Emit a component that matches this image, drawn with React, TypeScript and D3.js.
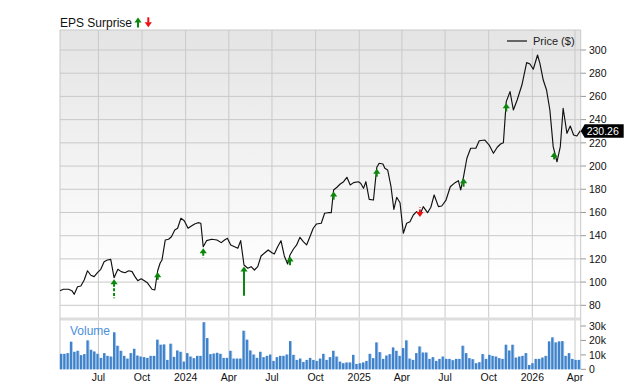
import React from "react";
import * as d3 from "d3";

const priceDates = [
  "2023-04-11","2023-04-18","2023-04-29","2023-05-06","2023-05-11","2023-05-18","2023-05-25","2023-06-01","2023-06-08","2023-06-15",
  "2023-06-22","2023-06-29","2023-07-06","2023-07-13","2023-07-20","2023-07-27","2023-08-03","2023-08-11","2023-08-18","2023-08-26",
  "2023-09-03","2023-09-10","2023-09-16","2023-09-22","2023-09-29","2023-10-06","2023-10-12","2023-10-22","2023-10-28","2023-11-03",
  "2023-11-08","2023-11-12","2023-11-19","2023-11-26","2023-12-02","2023-12-09","2023-12-15","2023-12-22","2023-12-29","2024-01-06",
  "2024-01-13","2024-01-20","2024-01-27","2024-02-02","2024-02-07","2024-02-14","2024-02-25","2024-03-07","2024-03-16","2024-03-23",
  "2024-03-29","2024-04-05","2024-04-13","2024-04-20","2024-04-26","2024-05-03","2024-05-11","2024-05-18","2024-05-25","2024-06-01",
  "2024-06-08","2024-06-16","2024-06-23","2024-07-01","2024-07-06","2024-07-13","2024-07-20","2024-07-27","2024-08-03","2024-08-08",
  "2024-08-15","2024-08-22","2024-08-29","2024-09-05","2024-09-12","2024-09-19","2024-09-26","2024-10-03","2024-10-13","2024-10-20",
  "2024-10-27","2024-11-03","2024-11-08","2024-11-15","2024-11-22","2024-11-29","2024-12-06","2024-12-13","2024-12-20","2024-12-30",
  "2025-01-04","2025-01-10","2025-01-15","2025-01-22","2025-01-31","2025-02-07","2025-02-12","2025-02-20","2025-02-24","2025-03-02",
  "2025-03-09","2025-03-15","2025-03-21","2025-03-28","2025-04-04","2025-04-11","2025-04-18","2025-04-25","2025-05-02","2025-05-09",
  "2025-05-16","2025-05-25","2025-06-01","2025-06-08","2025-06-17","2025-06-24","2025-07-03","2025-07-12","2025-07-22","2025-07-29",
  "2025-08-03","2025-08-09","2025-08-16","2025-08-24","2025-09-04","2025-09-11","2025-09-23","2025-10-02","2025-10-11","2025-10-19",
  "2025-10-26","2025-11-01","2025-11-07","2025-11-15","2025-11-22","2025-11-30","2025-12-10","2025-12-20","2025-12-27","2026-01-03",
  "2026-01-12","2026-01-17","2026-01-24","2026-01-31","2026-02-07","2026-02-14","2026-02-22","2026-03-01","2026-03-07","2026-03-15",
  "2026-03-22","2026-03-29","2026-04-05","2026-04-12"
];

const priceValues = [
  92.6, 93.8, 93.8, 92.6, 89.5, 96.0, 96.6, 101.8, 109.8, 105.9,
  104.7, 108.1, 111.0, 117.6, 119.0, 119.6, 103.8, 111.0, 109.0, 108.1,
  109.8, 109.0, 104.7, 101.2, 102.9, 101.2, 99.5, 93.8, 93.2, 109.8,
  116.2, 119.0, 136.3, 136.9, 139.1, 144.9, 146.4, 155.0, 152.9, 146.4,
  148.3, 150.1, 151.2, 150.7, 130.5, 135.7, 136.9, 136.3, 134.0, 136.3,
  137.7, 132.0, 130.5, 129.1, 135.7, 114.7, 111.9, 113.3, 110.4, 113.3,
  122.5, 125.3, 127.7, 125.3, 124.2, 130.5, 135.7, 122.5, 115.6, 123.4,
  128.3, 132.0, 138.6, 134.8, 132.0, 139.1, 146.4, 150.1, 150.7, 159.3,
  159.8, 159.8, 179.4, 181.7, 184.5, 186.5, 190.3, 183.7, 185.7, 186.5,
  185.1, 180.8, 186.5, 171.3, 170.7, 198.9, 202.4, 201.8, 198.1, 196.6,
  182.2, 162.7, 173.1, 168.4, 142.1, 150.7, 152.0, 157.8, 160.7, 157.8,
  165.0, 159.8, 164.5, 175.1, 165.0, 165.6, 170.7, 182.2, 185.7, 187.4,
  179.4, 190.8, 206.7, 215.3, 215.3, 221.8, 222.4, 218.1, 211.0, 216.2,
  219.0, 220.1, 255.5, 264.1, 248.3, 256.9, 269.8, 289.1, 287.9, 283.4,
  295.7, 288.5, 274.1, 265.5, 248.3, 216.7, 203.7, 216.7, 249.8, 228.2,
  234.5, 226.8, 225.9, 230.26
];

// weekly volume (thousands), first week ending 2023-04-14
const volumeFirstWeek = "2023-04-14";
const volumeValues = [
  10.7, 10.7, 11.2, 19.1, 12.1, 12.8, 9.8, 10.5, 20.0, 13.5,
  12.3, 10.7, 7.9, 11.2, 9.3, 8.8, 25.6, 16.3, 12.8, 9.3,
  7.4, 11.2, 14.2, 9.5, 8.8, 8.4, 7.9, 9.3, 9.3, 20.5,
  17.0, 17.2, 6.5, 17.7, 8.6, 13.0, 12.1, 5.3, 11.2, 8.8,
  7.7, 9.3, 9.3, 32.6, 21.6, 10.5, 10.9, 11.4, 10.7, 7.9,
  7.9, 12.8, 7.4, 7.4, 7.4, 26.7, 20.5, 13.0, 10.2, 7.9,
  12.1, 8.4, 9.3, 10.2, 5.8, 8.4, 9.3, 9.3, 10.2, 19.5,
  10.0, 6.5, 7.4, 5.1, 6.5, 7.9, 6.5, 5.8, 7.4, 10.7,
  6.5, 8.4, 12.8, 8.8, 5.3, 4.2, 4.7, 4.7, 10.0, 3.7,
  4.2, 4.7, 5.8, 10.7, 7.7, 18.6, 11.9, 7.2, 9.5, 10.5,
  15.1, 12.8, 9.3, 14.7, 20.0, 7.4, 6.5, 11.2, 15.8, 11.6,
  11.6, 7.2, 8.4, 5.8, 7.2, 8.8, 7.2, 7.2, 6.3, 7.2,
  7.2, 16.3, 11.2, 7.7, 7.0, 4.2, 4.9, 10.5, 7.2, 10.0,
  9.3, 8.8, 7.7, 7.2, 17.0, 13.0, 17.0, 8.1, 8.8, 9.3,
  11.2, 3.0, 4.2, 7.2, 7.2, 8.1, 9.3, 19.3, 22.1, 18.6,
  19.3, 19.5, 9.3, 11.2, 7.2, 6.5, 6.5
];

const epsDates = ["2023-08-03","2023-11-03","2024-02-07","2024-05-03","2024-08-08","2024-11-08","2025-02-07","2025-05-09","2025-08-09","2025-11-07","2026-02-16"];
const epsSurprise = [20, 1, 4, 37, 3, 2, 1.5, -4, 2.5, 2.2, 1];
const epsDashed = [true, false, true, false, false, false, false, true, false, false, true];

const xTickDates = ["2023-07-01","2023-10-01","2024-01-01","2024-04-01","2024-07-01","2024-10-01","2025-01-01","2025-04-01","2025-07-01","2025-10-01","2026-01-01","2026-04-01"];
const xTickLabels = ["Jul","Oct","2024","Apr","Jul","Oct","2025","Apr","Jul","Oct","2026","Apr"];
const priceTicks = [80, 100, 120, 140, 160, 180, 200, 220, 240, 260, 280, 300];
const volumeTicks = [0, 10, 20, 30];
const volumeTickLabels = ["0", "10k", "20k", "30k"];
const lastPrice = 230.26;
const domainStart = "2023-04-11";
const domainEnd = "2026-04-13";

const GREEN = "#0b870b";
const RED = "#ee1111";
const GRID = "#c9c9c9";
const FONT = "'Liberation Sans', Arial, sans-serif";

export default function App() {
  const parse = d3.timeParse("%Y-%m-%d");
  const W = 640, H = 382;
  const left = 60, right = 580.7, top = 30, priceBottom = 318, volBottom = 369.3;

  const x = d3.scaleTime().domain([parse(domainStart)!, parse(domainEnd)!]).range([left, right]);
  const y = d3.scaleLinear().domain([80, 300]).range([305.3, 50]);
  const yv = d3.scaleLinear().domain([0, 30]).range([volBottom, 326]);
  const arrowLen = d3.scaleLinear().domain([0, 37]).range([7, 29.2]);

  const pts = priceDates.map((d, i) => ({ date: parse(d)!, v: priceValues[i] }));
  const line = d3.line<{ date: Date; v: number }>().x(d => x(d.date)).y(d => y(d.v));

  const volDates = d3.timeDay.range(parse(volumeFirstWeek)!, d3.timeDay.offset(parse(volumeFirstWeek)!, volumeValues.length * 7), 7);

  const bis = d3.bisector((d: { date: Date }) => d.date).left;
  const priceAt = (dt: Date) => {
    const i = Math.max(1, Math.min(pts.length - 1, bis(pts, dt)));
    const a = pts[i - 1], b = pts[i];
    const t = (+dt - +a.date) / (+b.date - +a.date);
    return a.v + (b.v - a.v) * Math.max(0, Math.min(1, t));
  };

  const arrow = (key: string, cx: number, tip: number, len: number, up: boolean, dashed: boolean, color: string) => {
    const s = up ? 1 : -1;
    const hh = 5, hw = 3.6;
    const head = `M${cx},${tip} L${cx + hw},${tip + s * hh} L${cx - hw},${tip + s * hh} Z`;
    return (
      <g key={key}>
        <path d={head} fill={color} />
        <line x1={cx} x2={cx} y1={tip + s * (hh - 0.5)} y2={tip + s * len} stroke={color} strokeWidth={2}
          strokeDasharray={dashed ? "3,1.6" : undefined} />
      </g>
    );
  };

  const tagY = y(lastPrice);

  return (
    <svg width={W} height={H} style={{ position: "absolute", left: 0, top: 0, fontFamily: FONT }}>
      <defs>
        <linearGradient id="bg" x1="0" y1="0" x2="0" y2="1">
          <stop offset="0" stopColor="#e4e4e4" />
          <stop offset="0.85" stopColor="#ffffff" />
          <stop offset="1" stopColor="#ffffff" />
        </linearGradient>
      </defs>
      <rect x={0} y={0} width={W} height={H} fill="#fff" />
      <rect x={left} y={top} width={right - left} height={priceBottom - top} fill="url(#bg)" />

      {/* horizontal grid */}
      {priceTicks.map(t => (
        <line key={"h" + t} x1={left} x2={right} y1={y(t)} y2={y(t)} stroke={GRID} strokeWidth={1} />
      ))}
      {/* vertical grid */}
      {xTickDates.map(d => (
        <line key={"v" + d} x1={x(parse(d)!)} x2={x(parse(d)!)} y1={top} y2={volBottom} stroke={GRID} strokeWidth={1} />
      ))}
      {/* separator */}
      <rect x={left} y={317.5} width={right - left} height={3} fill="#dddddd" />

      {/* frame */}
      <line x1={left} x2={right} y1={top} y2={top} stroke={GRID} />
      <line x1={left} x2={left} y1={top} y2={volBottom} stroke={GRID} />
      <line x1={right} x2={right} y1={top} y2={volBottom} stroke={GRID} />

      {/* legend */}
      <rect x={500} y={31} width={73} height={17} fill="#e5e5e5" />
      <line x1={507} x2={527} y1={41} y2={41} stroke="#666" strokeWidth={2} />
      <text x={533} y={45} fontSize={11} fill="#222">Price ($)</text>

      {/* volume */}
      <text x={70} y={334.5} fontSize={12} fill="#4a90d9">Volume</text>
      {volumeValues.map((v, i) => {
        const cx = x(volDates[i]);
        return (
          <g key={"vb" + i}>
            <rect x={cx - 1.5} y={yv(v)} width={3} height={volBottom - yv(v)} fill="#a7c8ec" />
            <rect x={cx - 1.5} y={yv(v)} width={2.1} height={volBottom - yv(v)} fill="#3f82ca" />
          </g>
        );
      })}

      {/* price line */}
      <path d={line(pts) || ""} fill="none" stroke="#111" strokeWidth={1.15} strokeLinejoin="round" />

      {/* EPS arrows */}
      {epsDates.map((d, i) => {
        const dt = parse(d)!;
        const cx = x(dt);
        const py = y(priceAt(dt));
        const up = epsSurprise[i] >= 0;
        const len = arrowLen(Math.abs(epsSurprise[i]));
        const tip = up ? py + 1.5 : py + 2;
        return arrow("a" + i, cx, tip, len, up, epsDashed[i], up ? GREEN : RED);
      })}

      {/* right axis */}
      {priceTicks.map(t => (
        <g key={"pt" + t}>
          <line x1={right} x2={586} y1={y(t)} y2={y(t)} stroke="#999" />
          <text x={589} y={y(t)} dy="0.35em" fontSize={10.5} fill="#111">{t}</text>
        </g>
      ))}
      {volumeTicks.map((t, i) => (
        <g key={"vt" + t}>
          <line x1={right} x2={586} y1={yv(t)} y2={yv(t)} stroke="#999" />
          <text x={589} y={yv(t)} dy="0.35em" fontSize={10.5} fill="#111">{volumeTickLabels[i]}</text>
        </g>
      ))}

      {/* last price tag */}
      <path d={`M${right},${tagY} L${right + 4},${tagY - 6.7} L${right + 43},${tagY - 6.7} L${right + 43},${tagY + 6.7} L${right + 4},${tagY + 6.7} Z`} fill="#000" />
      <text x={right + 6} y={tagY} dy="0.36em" fontSize={10.5} fill="#fff">{lastPrice.toFixed(2)}</text>

      {/* x axis labels */}
      {xTickDates.map((d, i) => (
        <text key={"xl" + d} x={x(parse(d)!)} y={381} textAnchor="middle" fontSize={10.5} fill="#111">{xTickLabels[i]}</text>
      ))}

      {/* header */}
      <text x={60} y={27} fontSize={12} fill="#111">EPS Surprise</text>
      {arrow("hu", 138, 17.5, 10, true, false, GREEN)}
      {arrow("hd", 148.3, 27.3, 10, false, false, RED)}
    </svg>
  );
}
